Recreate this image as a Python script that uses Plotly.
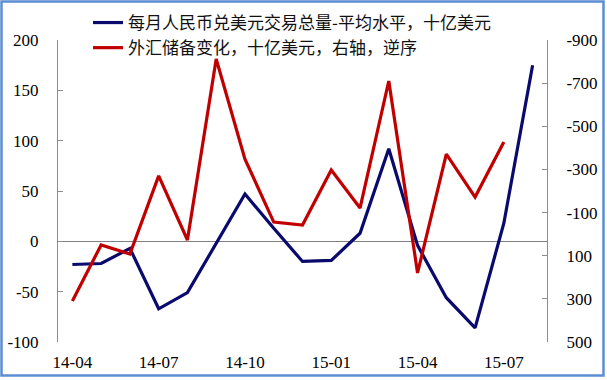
import plotly.graph_objects as go

months = ['14-04', '14-05', '14-06', '14-07', '14-08', '14-09', '14-10', '14-11', '14-12',
          '15-01', '15-02', '15-03', '15-04', '15-05', '15-06', '15-07', '15-08']
rmb_volume = [-23, -22, -7, -67, -51, -2, 47, 13, -20, -19, 8, 92, -4, -56, -86, 18, 175]
fx_reserve_change = [310, 50, 92, -270, 27, -812, -348, -56, -42, -297, -121, -710, 180, -371, -172, -427, None]

label_ticks = ['14-04', '14-07', '14-10', '15-01', '15-04', '15-07']
left_ticks = [-100, -50, 0, 50, 100, 150, 200]
right_ticks = [-900, -700, -500, -300, -100, 100, 300, 500]

W, H = 607, 380
ML, MR, MT, MB = 58, 60, 40, 38
PW, PH = W - ML - MR, H - MT - MB

idx = list(range(len(months)))
label_idx = [months.index(m) for m in label_ticks]
boundary_ticks = [i - 0.5 for i in label_idx[1:]]

fig = go.Figure()
fig.add_trace(go.Scatter(
    x=idx, y=rmb_volume, mode='lines', name='每月人民币兑美元交易总量-平均水平，十亿美元',
    line=dict(color='#0A0A6E', width=3.2), yaxis='y'))
fig.add_trace(go.Scatter(
    x=idx, y=fx_reserve_change, mode='lines', name='外汇储备变化，十亿美元，右轴，逆序',
    line=dict(color='#C00000', width=3.2), yaxis='y2'))

tickfont = dict(family='Liberation Serif', size=17, color='#000000')
xr = [-0.5, len(months) - 0.5]
fig.update_layout(
    width=W, height=H,
    margin=dict(l=ML, r=MR, t=MT, b=MB, autoexpand=False),
    paper_bgcolor='white', plot_bgcolor='white',
    showlegend=True,
    legend=dict(x=(88 - ML) / PW, y=1 + (MT - 5) / PH, xanchor='left', yanchor='top',
                font=dict(family='Noto Sans CJK SC', size=17, color='#111111'),
                bgcolor='rgba(0,0,0,0)', tracegroupgap=0, itemwidth=30),
    xaxis=dict(range=xr, tickmode='array', tickvals=label_idx, ticktext=label_ticks,
               showline=False, showgrid=False, zeroline=False, ticks='', automargin=False,
               tickfont=tickfont, ticklabelstandoff=8),
    xaxis2=dict(range=xr, overlaying='x', anchor='free', automargin=False,
                position=(0 - left_ticks[0]) / (left_ticks[-1] - left_ticks[0]),
                tickmode='array', tickvals=boundary_ticks, ticks='inside', ticklen=5,
                tickcolor='#808080', tickwidth=1, showticklabels=False,
                showline=False, showgrid=False, zeroline=False),
    yaxis=dict(range=[left_ticks[0], left_ticks[-1]], tickmode='array', tickvals=left_ticks,
               ticktext=[str(v) for v in left_ticks], automargin=False,
               showline=True, linecolor='#8c8c8c', linewidth=1,
               ticks='inside', ticklen=5, tickcolor='#8c8c8c',
               showgrid=False, zeroline=True, zerolinecolor='#7f7f7f', zerolinewidth=1,
               tickfont=tickfont, ticklabelstandoff=15),
    yaxis2=dict(range=[right_ticks[-1], right_ticks[0]], overlaying='y', side='right',
                tickmode='array', tickvals=right_ticks, ticktext=[str(v) for v in right_ticks],
                showline=True, linecolor='#8c8c8c', linewidth=1, automargin=False,
                ticks='inside', ticklen=5, tickcolor='#8c8c8c',
                showgrid=False, zeroline=False,
                tickfont=tickfont, ticklabelstandoff=15),
    shapes=[dict(type='rect', xref='paper', yref='paper',
                 x0=(1.5 - ML) / PW, x1=(W - 3.5 - ML) / PW,
                 y0=-(MB - 4.5) / PH,
                 y1=1 + (MT - 1.5) / PH,
                 line=dict(color='#5B8DD3', width=2.5), layer='above')],
)

fig.write_html('out.html', config={'displayModeBar': False},
               post_script="document.body.style.margin='0';document.body.style.overflow='hidden';")
